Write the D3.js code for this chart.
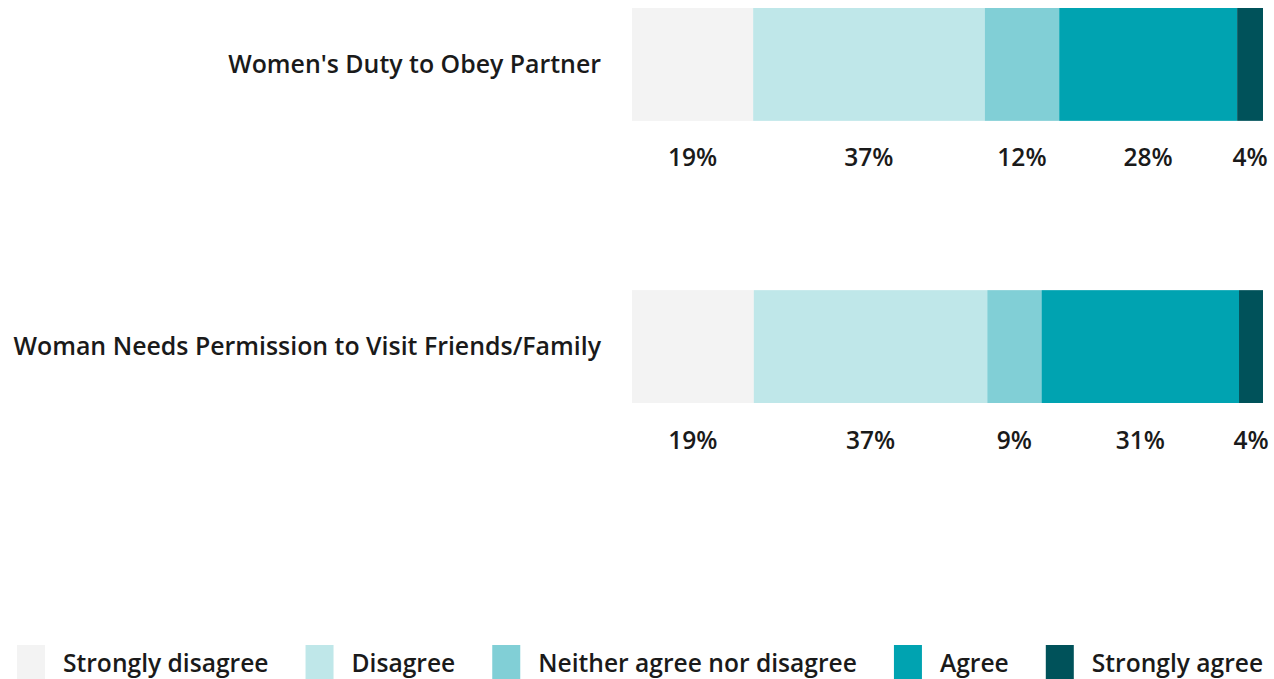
<!DOCTYPE html>
<html>
<head>
<meta charset="utf-8">
<script src="https://cdnjs.cloudflare.com/ajax/libs/d3/7.8.5/d3.min.js"></script>
<style>
  body { margin: 0; background: #fff; }
  svg { display: block; font-family: "Open Sans", "Noto Sans", sans-serif; font-weight: 600; fill: #1a1a1a; }
</style>
</head>
<body>
<script>
// the data
var categories = ["Women's Duty to Obey Partner", "Woman Needs Permission to Visit Friends/Family"];
var responses = ["Strongly disagree", "Disagree", "Neither agree nor disagree", "Agree", "Strongly agree"];
var strongDisagree = [19.2, 19.3];
var disagree = [36.7, 37.0];
var neither = [11.8, 8.6];
var agree = [28.2, 31.3];
var strongAgree = [4.1, 3.8];
var colors = ["#f3f3f3", "#bfe7e9", "#81cfd6", "#00a3b1", "#00525a"];

var width = 1274, height = 679;

// build rows for the stack
var series = [strongDisagree, disagree, neither, agree, strongAgree];
var rows = categories.map(function(c, i) {
  var r = {category: c};
  responses.forEach(function(k, j) { r[k] = series[j][i]; });
  return r;
});

var stacked = d3.stack().keys(responses)(rows);

// scales
var x = d3.scaleLinear().domain([0, 100]).range([632, 1263]);
var y = d3.scaleBand().domain(categories).range([8, 403]).paddingInner(0.6).paddingOuter(0);
var color = d3.scaleOrdinal().domain(responses).range(colors);
var fmt = function(v) { return d3.format(".0f")(v) + "%"; };

var svg = d3.select("body").append("svg")
    .attr("width", width)
    .attr("height", height);

// bar segments
var layer = svg.selectAll(".layer")
    .data(stacked)
  .enter().append("g")
    .attr("class", "layer")
    .attr("fill", function(d) { return color(d.key); });

layer.selectAll("rect")
    .data(function(d) { return d; })
  .enter().append("rect")
    .attr("x", function(d) { return x(d[0]); })
    .attr("width", function(d) { return x(d[1]) - x(d[0]); })
    .attr("y", function(d) { return y(d.data.category); })
    .attr("height", y.bandwidth());

// percent labels under each segment
layer.selectAll("text")
    .data(function(d) { return d; })
  .enter().append("text")
    .attr("x", function(d) { return (x(d[0]) + x(d[1])) / 2; })
    .attr("y", function(d) { return y(d.data.category) + y.bandwidth() + 37; })
    .attr("dy", "0.35em")
    .attr("text-anchor", "middle")
    .attr("fill", "#1a1a1a")
    .style("font-size", "24.5px")
    .text(function(d) { return fmt(d[1] - d[0]); });

// category labels
svg.selectAll(".cat")
    .data(categories)
  .enter().append("text")
    .attr("class", "cat")
    .attr("x", 601)
    .attr("y", function(d) { return y(d) + y.bandwidth() / 2; })
    .attr("dy", "0.35em")
    .attr("text-anchor", "end")
    .style("font-size", "24.9px")
    .text(function(d) { return d; });

// legend
var legend = svg.append("g").attr("class", "legend");
var lx = 17;
responses.forEach(function(k) {
  var g = legend.append("g").attr("transform", "translate(" + lx + ",0)");
  g.append("rect")
      .attr("x", 0)
      .attr("y", 645)
      .attr("width", 28)
      .attr("height", 40)
      .attr("fill", color(k));
  var t = g.append("text")
      .attr("x", 46)
      .attr("y", 663)
      .attr("dy", "0.35em")
      .style("font-size", "24.6px")
      .text(k);
  lx += 46 + t.node().getComputedTextLength() + 37;
});
</script>
</body>
</html>
